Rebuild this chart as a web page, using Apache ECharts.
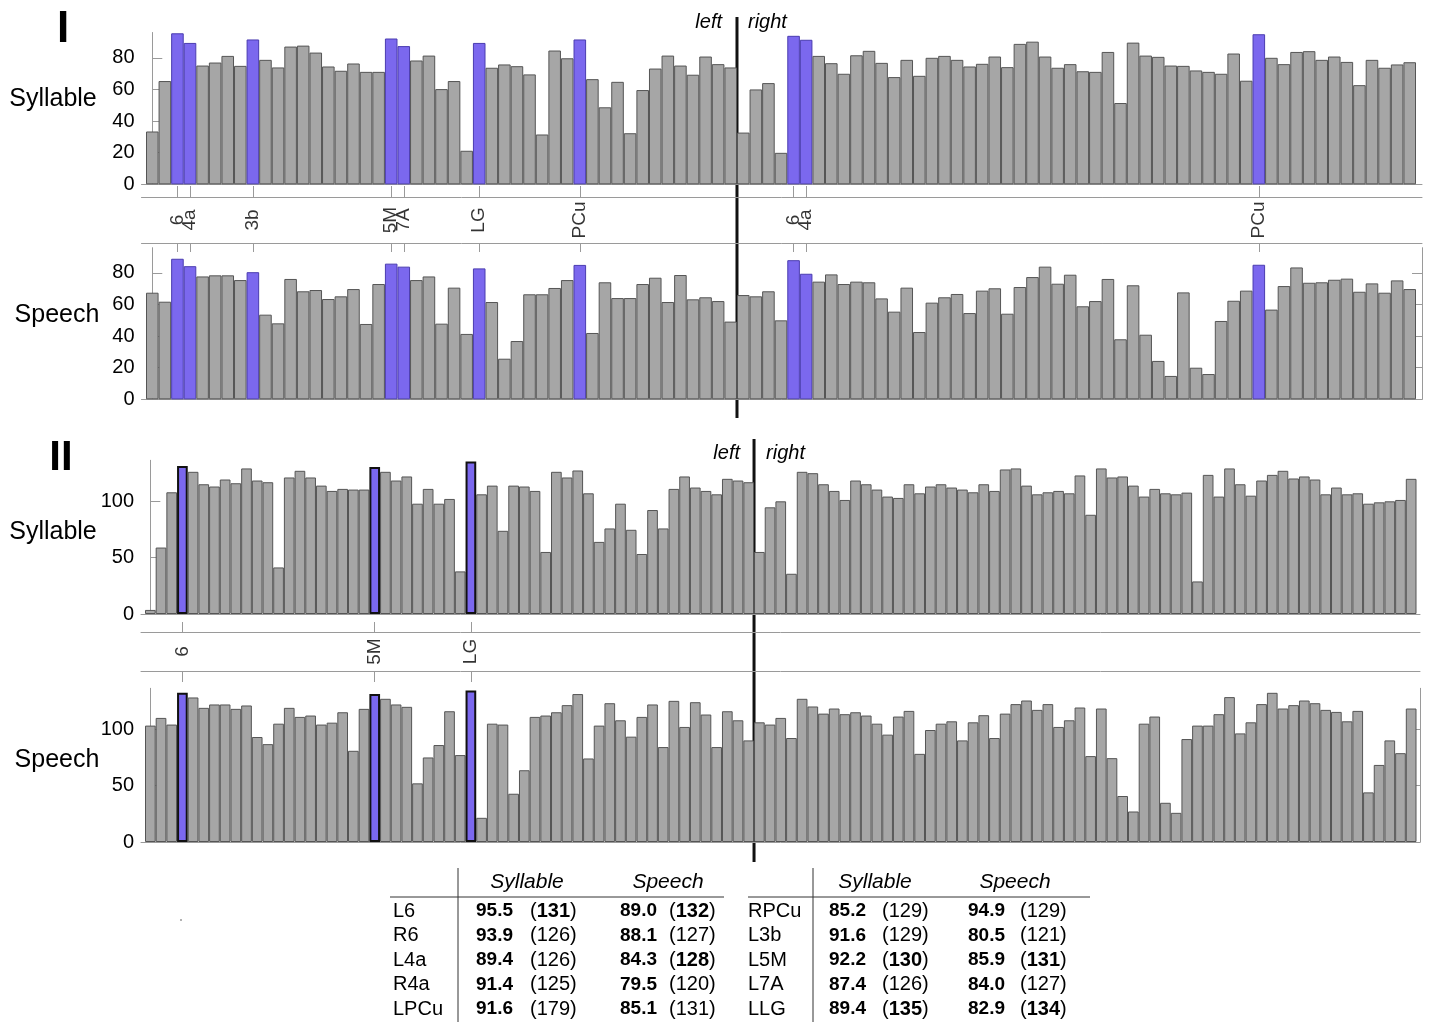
<!DOCTYPE html>
<html><head><meta charset="utf-8">
<script src="https://cdn.jsdelivr.net/npm/echarts@6/dist/echarts.min.js"></script>
<style>html,body{margin:0;padding:0;background:#fff}#c{width:1429px;height:1022px}</style>
</head><body><div id="c"></div>
<script>
// ---------------- DATA ----------------
const syllableI = [33.4, 65.3, 95.5, 89.4, 75.1, 77.0, 81.2, 74.9, 91.6, 78.7, 73.9, 87.1, 87.7, 83.3, 74.5, 71.8, 76.4, 71.1, 71.1, 92.2, 87.4, 78.3, 81.4, 60.2, 65.3,
  21.2, 89.4, 73.7, 75.8, 74.7, 69.5, 31.5, 84.6, 79.7, 91.6, 66.5, 48.7, 64.8, 32.3, 59.6, 73.2, 81.4, 75.1, 69.3, 80.8, 76.0, 73.9,
  32.7, 60.0, 64.0, 19.9, 93.9, 91.4, 81.2, 76.6, 69.9, 81.6, 84.4, 76.8, 67.8, 78.7, 68.6, 80.0, 81.2, 78.7, 74.5, 76.2, 80.8, 74.1, 88.8, 90.2, 80.8, 73.7, 76.0, 71.5,
  71.1, 83.7, 51.4, 89.6, 81.4, 80.6, 75.1, 74.9, 72.0, 71.1, 69.9, 82.7, 65.5, 94.9, 80.0, 76.0, 83.7, 84.2, 78.7, 80.8, 77.4, 62.7, 78.7, 73.7, 75.8, 77.2];
const speechI = [67.5, 61.8, 89.0, 84.3, 77.8, 78.5, 78.5, 75.5, 80.5, 53.6, 48.1, 76.2, 68.4, 69.2, 63.5, 65.2, 69.8, 47.7, 73.0, 85.9, 84.0, 75.5, 77.8, 47.9, 70.7,
  41.4, 82.9, 61.6, 25.7, 36.9, 66.5, 66.5, 70.5, 75.5, 85.1, 42.0, 74.1, 64.1, 64.1, 73.0, 77.0, 61.6, 78.7, 63.3, 64.6, 62.2, 49.2,
  66.0, 65.2, 68.4, 50.0, 88.1, 79.5, 74.5, 79.1, 73.0, 74.5, 74.1, 63.9, 55.5, 70.7, 42.6, 61.2, 64.6, 66.7, 54.6, 68.8, 70.3, 54.2, 71.1, 77.4, 84.0, 73.2, 78.9, 58.9,
  62.2, 76.2, 38.0, 72.2, 40.9, 24.3, 14.8, 67.7, 20.0, 16.0, 49.6, 62.4, 68.8, 85.2, 56.8, 71.7, 83.5, 73.8, 74.1, 75.7, 76.4, 68.1, 73.4, 67.5, 75.3, 69.8];
const syllableII = [3.6, 58.8, 107.7, 131, 125.8, 114.8, 112.8, 119.0, 115.7, 128.8, 118.1, 116.6, 41.2, 120.8, 126.7, 120.8, 113.6, 108.9, 110.7, 110.1,
  110.1, 130, 125.8, 118.1, 121.7, 97.6, 110.7, 97.6, 101.8, 37.7, 135, 105.9, 113.6, 73.6, 113.6, 112.8, 108.9, 54.9, 125.8, 120.8,
  127.0, 106.8, 63.8, 75.7, 97.6, 74.5, 53.1, 92.0, 75.7, 110.7, 121.7, 111.9, 108.9, 105.9, 119.6, 118.1, 116.6,
  54.9, 94.4, 99.7, 35.6, 125.8, 124.6, 114.8, 108.9, 100.9, 118.1, 114.8, 110.1, 103.9, 102.7, 114.8, 106.8, 112.8, 114.8,
  111.9, 110.1, 107.7, 114.8, 108.9, 127.9, 128.8, 113.6, 105.9, 107.7, 108.9, 106.8, 122.6, 87.8, 128.8, 120.8, 121.7, 113.6,
  103.9, 110.7, 106.8, 105.9, 107.4, 28.8, 123.1, 103.9, 128.8, 114.8, 104.7, 118.1, 123.1, 126.7, 119.9, 121.7, 119.0, 105.9,
  111.9, 105.9, 106.8, 97.6, 98.8, 99.7, 100.9, 119.6];
const speechII = [103.0, 109.8, 103.9, 132, 127.9, 118.7, 121.7, 121.7, 117.8, 120.8, 92.9, 86.6, 104.7, 118.7, 110.7, 111.9, 103.9, 105.6, 114.8, 80.7,
  117.8, 131, 126.7, 121.7, 119.6, 51.9, 74.8, 85.8, 115.7, 76.9, 134, 21.4, 104.7, 103.9, 42.7, 63.5, 110.7, 111.9, 114.8, 121.1,
  130.9, 73.9, 103.0, 122.8, 107.7, 93.2, 110.7, 121.7, 84.0, 124.9, 101.8, 123.7, 112.8, 84.0, 115.7, 107.7, 89.9,
  105.9, 103.9, 109.8, 92.0, 126.7, 119.9, 113.6, 118.1, 113.1, 114.8, 111.9, 104.7, 95.0, 111.0, 116.0, 78.0, 99.1, 104.7,
  106.8, 89.9, 105.9, 112.2, 92.0, 113.6, 122.0, 125.2, 116.9, 122.0, 101.8, 107.7, 119.0, 76.0, 118.1, 74.2, 40.7, 27.0,
  104.7, 111.0, 34.7, 25.8, 91.1, 103.0, 103.0, 113.1, 128.2, 96.1, 105.9, 122.0, 132.0, 118.1, 121.1, 125.2, 122.8, 116.9,
  115.1, 106.8, 116.0, 43.9, 68.2, 89.9, 78.6, 118.1];

const hiI = [2, 3, 8, 19, 20, 26, 34, 51, 52, 88];
const hiLabelsI = ['6', '4a', '3b', '5M', '7A', 'LG', 'PCu', '6', '4a', 'PCu'];
const hiII = [3, 21, 30];
const hiLabelsII = ['6', '5M', 'LG'];
const leftCountI = 47;
const leftCountII = 57;
const yTicksI = [0, 20, 40, 60, 80];
const yTicksII = [0, 50, 100];
const yMaxI = 96;
const yMaxII = 136;

// table
const tabHeaders = ['Syllable', 'Speech'];
const tabLeftRows = ['L6', 'R6', 'L4a', 'R4a', 'LPCu'];
const tabLeftSyl = ['95.5', '93.9', '89.4', '91.4', '91.6'];
const tabLeftSylN = [131, 126, 126, 125, 179];
const tabLeftSylB = [1, 0, 0, 0, 0];
const tabLeftSp = ['89.0', '88.1', '84.3', '79.5', '85.1'];
const tabLeftSpN = [132, 127, 128, 120, 131];
const tabLeftSpB = [1, 0, 1, 0, 0];
const tabRightRows = ['RPCu', 'L3b', 'L5M', 'L7A', 'LLG'];
const tabRightSyl = ['85.2', '91.6', '92.2', '87.4', '89.4'];
const tabRightSylN = [129, 129, 130, 126, 135];
const tabRightSylB = [0, 0, 1, 0, 1];
const tabRightSp = ['94.9', '80.5', '85.9', '84.0', '82.9'];
const tabRightSpN = [129, 121, 131, 127, 134];
const tabRightSpB = [0, 0, 1, 0, 1];

// ---------------- LAYOUT ----------------
const FONT = '"Liberation Sans", Arial, Helvetica, sans-serif';
const GRAY = '#a6a6a6', EDGE = '#555', BLUE = '#7b68ee';
const AX = '#9a9a9a';

function geom(barStart, barEnd, n, axisStart, axisEnd) {
  const bw = (barEnd - barStart) / n;
  return { bw, left: axisStart, width: axisEnd - axisStart,
    min: -0.5 - (barStart - axisStart) / bw, max: n - 0.5 + (axisEnd - barEnd) / bw };
}
const gI = geom(146, 1416, syllableI.length, 141.5, 1422);
const gII = geom(145, 1416.5, syllableII.length, 141, 1420);

const grids = [
  { left: gI.left, width: gI.width, top: 32.5, height: 151.8 },
  { left: gI.left, width: gI.width, top: 197, height: 46 },
  { left: gI.left, width: gI.width, top: 247.7, height: 151.6 },
  { left: gII.left, width: gII.width, top: 460.3, height: 153.7 },
  { left: gII.left, width: gII.width, top: 632, height: 39 },
  { left: gII.left, width: gII.width, top: 688.3, height: 153.7 }
];

function barX(g, gi) {
  return { type: 'value', gridIndex: gi, min: g.min, max: g.max, position: 'bottom',
    axisLine: { show: true, onZero: false, lineStyle: { color: AX, width: 1 } },
    axisTick: { show: false }, axisLabel: { show: false }, splitLine: { show: false } };
}
function stripX(g, gi, pos, ticks, len) {
  return { type: 'value', gridIndex: gi, min: g.min, max: g.max, position: pos,
    axisLine: { show: true, onZero: false, lineStyle: { color: AX, width: 1 } },
    axisTick: { show: true, customValues: ticks, length: len, lineStyle: { color: AX } },
    axisLabel: { show: false }, splitLine: { show: false } };
}
function leftY(gi, max, ticks) {
  return { type: 'value', gridIndex: gi, min: 0, max: max, position: 'left',
    axisLine: { show: true, lineStyle: { color: AX } },
    axisTick: { show: true, inside: true, length: 10, customValues: ticks, lineStyle: { color: AX } },
    axisLabel: { show: true, customValues: ticks, color: '#000', fontSize: 20, fontFamily: FONT, margin: 7 },
    splitLine: { show: false } };
}
function rightY(gi, max, ticks) {
  return { type: 'value', gridIndex: gi, min: 0, max: max, position: 'right',
    axisLine: { show: true, lineStyle: { color: AX } },
    axisTick: { show: true, inside: true, length: 10, customValues: ticks, lineStyle: { color: AX } },
    axisLabel: { show: false }, splitLine: { show: false } };
}
function hiddenY(gi) {
  return { type: 'value', gridIndex: gi, min: 0, max: 1, show: false };
}

function barSeries(values, hi, xi, yi, g, blueEdge, blueEdgeW) {
  return { type: 'bar', xAxisIndex: xi, yAxisIndex: yi, barWidth: g.bw, barGap: '0%', barCategoryGap: '0%',
    silent: true, animation: false,
    data: values.map((v, i) => {
      const isHi = hi.indexOf(i) >= 0;
      return { value: [i, v], itemStyle: isHi ?
        { color: BLUE, borderColor: blueEdge, borderWidth: blueEdgeW } :
        { color: GRAY, borderColor: EDGE, borderWidth: 1 } };
    }) };
}
function labelSeries(pos, names, xi, yi) {
  return { type: 'scatter', xAxisIndex: xi, yAxisIndex: yi, symbolSize: 1, silent: true, animation: false,
    itemStyle: { color: 'rgba(0,0,0,0)' },
    label: { show: true, position: 'inside', rotate: 90, formatter: p => p.name,
      color: '#000', fontSize: 19, fontFamily: FONT, align: 'center', verticalAlign: 'middle' },
    data: pos.map((p, k) => ({ value: [p, 0.5], name: names[k] })) };
}

const option = {
  animation: false,
  backgroundColor: '#fff',
  grid: grids,
  xAxis: [
    barX(gI, 0),
    stripX(gI, 1, 'top', hiI, 11),
    stripX(gI, 1, 'bottom', hiI, 9),
    barX(gI, 2),
    barX(gII, 3),
    stripX(gII, 4, 'top', hiII, 10),
    stripX(gII, 4, 'bottom', hiII, 11),
    barX(gII, 5)
  ],
  yAxis: [
    leftY(0, yMaxI, yTicksI),
    hiddenY(1),
    leftY(2, yMaxI, yTicksI),
    rightY(2, yMaxI, yTicksI),
    leftY(3, yMaxII, yTicksII),
    hiddenY(4),
    leftY(5, yMaxII, yTicksII),
    rightY(5, yMaxII, yTicksII)
  ],
  series: [
    barSeries(syllableI, hiI, 0, 0, gI, '#4a3cb0', 1),
    labelSeries(hiI, hiLabelsI, 2, 1),
    barSeries(speechI, hiI, 3, 2, gI, '#4a3cb0', 1),
    barSeries(syllableII, hiII, 4, 4, gII, '#111', 2),
    labelSeries(hiII, hiLabelsII, 6, 5),
    barSeries(speechII, hiII, 7, 6, gII, '#111', 2)
  ]
};

const chart = echarts.init(document.getElementById('c'), null, { renderer: 'canvas' });
chart.setOption(option);

// ---------------- DECORATION ----------------
const xDivI = chart.convertToPixel({ xAxisIndex: 0 }, leftCountI - 0.5);
const xDivII = chart.convertToPixel({ xAxisIndex: 4 }, leftCountII - 0.5);

function txt(x, y, s, o) {
  return { type: 'text', x: x, y: y, silent: true, style: Object.assign({
    text: s, fontFamily: FONT, fontSize: 20, fill: '#000', align: 'left', verticalAlign: 'middle' }, o || {}) };
}
function line(x1, y1, x2, y2, w, c) {
  return { type: 'line', silent: true, shape: { x1, y1, x2, y2 }, style: { stroke: c || '#000', lineWidth: w || 1 } };
}

const g = [];
g.push(line(xDivI, 17, xDivI, 418, 3, '#111'));
g.push(line(xDivII, 439, xDivII, 862, 3, '#111'));
g.push(txt(xDivI - 15, 22, 'left', { align: 'right', fontStyle: 'italic' }));
g.push(txt(xDivI + 11, 22, 'right', { fontStyle: 'italic' }));
g.push(txt(xDivII - 14, 453, 'left', { align: 'right', fontStyle: 'italic' }));
g.push(txt(xDivII + 12, 453, 'right', { fontStyle: 'italic' }));
g.push(txt(63, 30, 'I', { align: 'center', fontSize: 44, fontWeight: 'bold' }));
g.push(txt(61, 458, 'II', { align: 'center', fontSize: 42, fontWeight: 'bold' }));
g.push(txt(53, 99, 'Syllable', { align: 'center', fontSize: 25 }));
g.push(txt(57, 315, 'Speech', { align: 'center', fontSize: 25 }));
g.push(txt(53, 532, 'Syllable', { align: 'center', fontSize: 25 }));
g.push(txt(57, 760, 'Speech', { align: 'center', fontSize: 25 }));
g.push({ type: 'circle', silent: true, shape: { cx: 181, cy: 920, r: 1 }, style: { fill: '#999' } });

// table
const TC = '#333';
g.push(line(458, 868, 458, 1022, 1, TC));
g.push(line(813, 868, 813, 1022, 1, TC));
g.push(line(390, 897, 724, 897, 1, TC));
g.push(line(748, 897, 1090, 897, 1, TC));
const headX = [[527, 668], [875, 1015]];
headX.forEach(hx => hx.forEach((x, k) => g.push(txt(x, 882, tabHeaders[k], { align: 'center', fontStyle: 'italic', fontSize: 21 }))));
const rich = { p: { fontFamily: FONT, fontSize: 20, fill: '#000' }, b: { fontFamily: FONT, fontSize: 20, fontWeight: 'bold', fill: '#000' } };
function nTxt(x, y, n, b) {
  return txt(x, y, '{p|(}{' + (b ? 'b' : 'p') + '|' + n + '}{p|)}', { fontSize: 20, rich: rich });
}
function block(cols, rows, v1, n1, b1, v2, n2, b2) {
  rows.forEach((r, k) => {
    const y = 911 + k * 24.5;
    g.push(txt(cols[0], y, r, { fontSize: 20 }));
    g.push(txt(cols[1], y, v1[k], { fontSize: 19, fontWeight: 'bold' }));
    g.push(nTxt(cols[2], y, n1[k], b1[k]));
    g.push(txt(cols[3], y, v2[k], { fontSize: 19, fontWeight: 'bold' }));
    g.push(nTxt(cols[4], y, n2[k], b2[k]));
  });
}
block([393, 476, 530, 620, 669], tabLeftRows, tabLeftSyl, tabLeftSylN, tabLeftSylB, tabLeftSp, tabLeftSpN, tabLeftSpB);
block([748, 829, 882, 968, 1020], tabRightRows, tabRightSyl, tabRightSylN, tabRightSylB, tabRightSp, tabRightSpN, tabRightSpB);

chart.setOption({ graphic: { elements: g } });
</script>
</body></html>
